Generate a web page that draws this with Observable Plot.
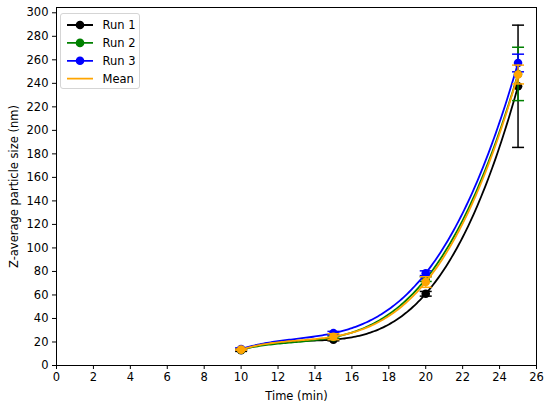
<!DOCTYPE html>
<html><head><meta charset="utf-8">
<script src="https://cdn.jsdelivr.net/npm/d3@7"></script>
<script src="https://cdn.jsdelivr.net/npm/@observablehq/plot@0.6"></script>
<style>
html,body{margin:0;padding:0;background:#fff;}
#wrap{position:relative;width:550px;height:407px;font-family:"DejaVu Sans",sans-serif;}
#legend{position:absolute;left:60px;top:13px;width:80px;height:76px;box-sizing:border-box;border:1px solid #d5d5d5;border-radius:3px;background:rgba(255,255,255,0.85);}
</style>
</head><body>
<div id="wrap"><div id="chart"></div><svg id="legend" width="80" height="76"></svg></div>
<script>
const times = [10, 15, 20, 25];
const run1 = [13, 22, 61, 237.5];
const run1Err = [1, 1, 2, 52];
const run2 = [13.5, 24, 73.5, 248];
const run2Err = [0.5, 1, 2, 22.7];
const run3 = [14, 27.5, 78.5, 257.3];
const run3Err = [1, 1.5, 2, 7.5];
const mean = [13.5, 24.5, 71, 247.5];
const meanErr = [0.5, 2.5, 4.5, 8];
const seriesNames = ["Run 1", "Run 2", "Run 3", "Mean"];
const seriesColors = ["black", "green", "blue", "orange"];
const xTicks = d3.range(0, 27, 2);
const yTicks = d3.range(0, 301, 20);

const seriesVals = [run1, run2, run3, mean];
const seriesErrs = [run1Err, run2Err, run3Err, meanErr];

function polyCurve(context) {
  let pts;
  return {
    areaStart() {}, areaEnd() {},
    lineStart() { pts = []; },
    point(x, y) { pts.push([+x, +y]); },
    lineEnd() {
      const n = pts.length; if (!n) return;
      const x0 = pts[0][0], x1 = pts[n - 1][0], N = 150;
      for (let i = 0; i <= N; i++) {
        const x = x0 + (x1 - x0) * i / N;
        let y = 0;
        for (let j = 0; j < n; j++) {
          let l = 1;
          for (let k = 0; k < n; k++) if (k !== j) l *= (x - pts[k][0]) / (pts[j][0] - pts[k][0]);
          y += l * pts[j][1];
        }
        if (i === 0) context.moveTo(x, y); else context.lineTo(x, y);
      }
    }
  };
}
const capSymbol = { draw(ctx) { ctx.moveTo(-6, 0); ctx.lineTo(6, 0); } };

const marks = [];
seriesNames.forEach((name, si) => {
  const rows = times.map((t, i) => ({ t, v: seriesVals[si][i], e: seriesErrs[si][i] }));
  const c = seriesColors[si];
  marks.push(Plot.line(rows, { x: "t", y: "v", curve: polyCurve, stroke: c, strokeWidth: 1.8 }));
  marks.push(Plot.ruleX(rows, { x: "t", y1: d => d.v - d.e, y2: d => d.v + d.e, stroke: c, strokeWidth: 1.5 }));
  marks.push(Plot.dot(rows, { x: "t", y: d => d.v - d.e, symbol: capSymbol, stroke: c, fill: "none", strokeWidth: 1.5 }));
  marks.push(Plot.dot(rows, { x: "t", y: d => d.v + d.e, symbol: capSymbol, stroke: c, fill: "none", strokeWidth: 1.5 }));
  marks.push(Plot.dot(rows, { x: "t", y: "v", r: 4.3, fill: c, stroke: "none" }));
});

const chart = Plot.plot({
  width: 550, height: 407,
  marginLeft: 56, marginRight: 14, marginTop: 7, marginBottom: 42,
  style: { fontFamily: "DejaVu Sans", fontSize: "11.5px", color: "black", background: "white" },
  x: { domain: [0, 26] },
  y: { domain: [0, 304.5] },
  marks: [
    Plot.axisX({ ticks: xTicks, tickSize: 4, tickPadding: 3, label: null, tickFormat: d => String(d) }),
    Plot.axisY({ ticks: yTicks, tickSize: 4, tickPadding: 4, label: null, tickFormat: d => String(d) }),
    ...marks,
    Plot.frame({ stroke: "black", strokeWidth: 1 }),
    Plot.text(["Time (min)"], { frameAnchor: "bottom", dy: 31, lineAnchor: "middle", fontSize: 11.5 }),
    Plot.text(["Z-average particle size (nm)"], { frameAnchor: "left", dx: -42, rotate: -90, textAnchor: "middle", lineAnchor: "middle", fontSize: 11.5 })
  ]
});
document.getElementById("chart").appendChild(chart);

// legend
const lg = d3.select("#legend");
seriesNames.forEach((name, i) => {
  const y = 11 + i * 17.9;
  lg.append("line").attr("x1", 6).attr("x2", 32).attr("y1", y).attr("y2", y)
    .attr("stroke", seriesColors[i]).attr("stroke-width", 1.8);
  if (name !== "Mean") lg.append("circle").attr("cx", 19).attr("cy", y).attr("r", 4.3).attr("fill", seriesColors[i]);
  lg.append("text").attr("x", 41.5).attr("y", y).attr("dy", "0.36em")
    .attr("font-family", "DejaVu Sans").attr("font-size", "11.5px").text(name);
});
</script>
</body></html>
